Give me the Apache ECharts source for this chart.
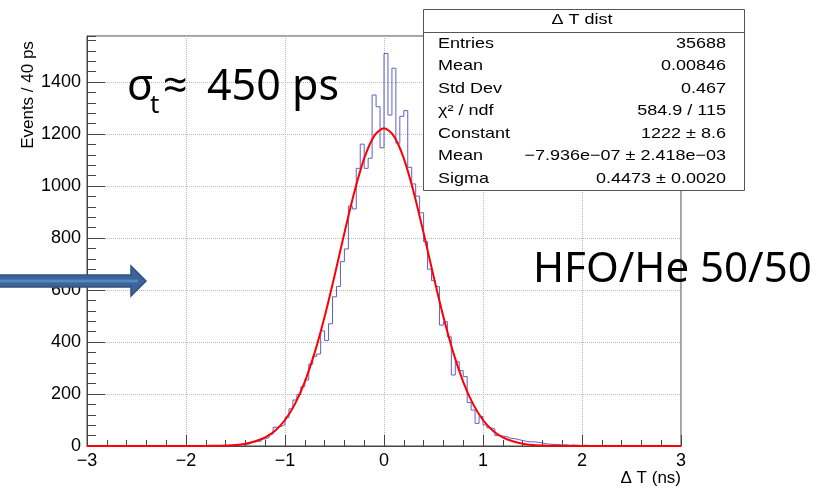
<!DOCTYPE html>
<html><head><meta charset="utf-8">
<script src="https://cdn.jsdelivr.net/npm/echarts@6/dist/echarts.min.js"></script>
<style>html,body{margin:0;padding:0;background:#fff}#c{width:823px;height:494px}</style>
</head><body><div id="c"></div>
<script>
// Histogram: 150 bins of 40 ps from -3 ns to 3 ns
const binLow = -3;
const binWidth = 0.04;
const counts = [
  0,0,0,0,0,0,0,0,0,0, 0,0,0,0,0,0,0,0,0,0, 0,0,0,0,0,0,0,0,0,0, 0,0,0,0,
  1,0,2,3,4,5,8,15,17,19,27,33,46,72,75,82,
  110,143,177,198,228,254,315,345,354,443,406,470,574,614,709,758,923,912,1068,1161,
  1068,1107,1350,1305,1147,1510,1273,1453,1165,1268,1290,1072,1008,961,897,786,680,
  636,613,465,478,420,273,324,290,267,167,138,87,113,81,70,66,40,38,36,30,
  28,25,21,18,16,16,14,12,8,7,6,6,4,5,3,4,3,2,3,2,1,2,1,1,0,1,0,1,
  0,0,0,0,0,0,0,0,0,0,0,0,0,0,0
];
// Gaussian fit curve
const fitX = [-3,-2,-1.8,-1.7,-1.6,-1.5,-1.4,-1.3,-1.2,-1.1,-1.0,-0.9,-0.8,-0.7,-0.6,-0.5,-0.4,-0.3,-0.2,-0.1,0,
  0.1,0.2,0.3,0.4,0.5,0.6,0.7,0.8,0.9,1.0,1.1,1.2,1.3,1.4,1.5,1.6,1.7,1.8,2,3];
const fitY = [0,0,0.4,0.9,2,4,9,18,33,59,100,161,247,359,497,654,819,976,1106,1192,1222,
  1192,1106,976,819,654,497,359,247,161,100,59,33,18,9,4,2,0.9,0.4,0,0];

const statTitle = 'Δ T dist';
const statLabels = ['Entries','Mean','Std Dev','χ² / ndf','Constant','Mean','Sigma'];
const statValues = ['35688','0.00846','0.467','584.9 / 115','1222 ± 8.6','−7.936e−07 ± 2.418e−03','0.4473 ± 0.0020'];
const xTitle = 'Δ T (ns)';
const yTitle = 'Events / 40 ps';

const histData = counts.map((c, i) => [binLow + i * binWidth, c]);
histData.push([binLow + counts.length * binWidth, 0]);
const fitData = fitX.map((x, i) => [x, fitY[i]]);

const FONT = '"Liberation Sans", Arial, sans-serif';
const axisCol = '#444';
const fmtNum = v => (v < 0 ? '\u2212' + Math.abs(v) : String(v));

const chart = echarts.init(document.getElementById('c'));
const graphics = [];
// stats box
graphics.push({type:'rect', z:100, shape:{x:423.5,y:9.5,width:321,height:181}, style:{fill:'#fff',stroke:'#555',lineWidth:1}});
graphics.push({type:'line', z:101, shape:{x1:423.5,y1:32.5,x2:744.5,y2:32.5}, style:{stroke:'#555',lineWidth:1}});
graphics.push({type:'text', z:102, x:582, y:20, scaleX:1.2, style:{text:statTitle, x:0, y:0, align:'center', verticalAlign:'middle', font:'15px '+FONT, fill:'#000'}});
statLabels.forEach((l, i) => {
  const y = 43.5 + 22.5 * i;
  graphics.push({type:'text', z:102, x:438, y:y, scaleX:1.2, style:{text:l, x:0, y:0, align:'left', verticalAlign:'middle', font:'15px '+FONT, fill:'#000'}});
  graphics.push({type:'text', z:102, x:726, y:y, scaleX:1.2, style:{text:statValues[i], x:0, y:0, align:'right', verticalAlign:'middle', font:'15px '+FONT, fill:'#000'}});
});
// axis titles
graphics.push({type:'text', z:102, x:28, y:95, rotation:Math.PI/2, style:{text:yTitle, x:0, y:0, align:'center', verticalAlign:'middle', font:'17px '+FONT, fill:'#000'}});
graphics.push({type:'text', z:102, x:681, y:478, style:{text:xTitle, x:0, y:0, align:'right', verticalAlign:'middle', font:'17px '+FONT, fill:'#000'}});
// annotations
const BIG = '"Noto Sans", "Open Sans", sans-serif';
graphics.push({type:'text', z:102, x:127, y:88, style:{text:'σ', x:0, y:0, align:'left', verticalAlign:'middle', font:'43px '+BIG, fill:'#000'}});
graphics.push({type:'text', z:102, x:150, y:106, style:{text:'t', x:0, y:0, align:'left', verticalAlign:'middle', font:'26px '+BIG, fill:'#000'}});
graphics.push({type:'text', z:102, x:163, y:88, style:{text:'≈', x:0, y:0, align:'left', verticalAlign:'middle', font:'43px '+BIG, fill:'#000'}});
graphics.push({type:'text', z:102, x:207, y:88, style:{text:'450 ps', x:0, y:0, align:'left', verticalAlign:'middle', font:'43px '+BIG, fill:'#000'}});
graphics.push({type:'text', z:102, x:533, y:270, style:{text:'HFO/He 50/50', x:0, y:0, align:'left', verticalAlign:'middle', font:'42px '+BIG, fill:'#000'}});
// arrow
graphics.push({type:'polygon', z:110, shape:{points:[[-2,275],[131,275],[131,266],[146,281],[131,296],[131,287],[-2,287]]}, style:{fill:'#3D6398',stroke:'#2F5183',lineWidth:1.5}});
graphics.push({type:'line', z:111, shape:{x1:0,y1:281,x2:138,y2:281}, style:{stroke:'#5585C2',lineWidth:3}});

const option = {
  animation: false,
  backgroundColor: '#fff',
  grid: {left:87, right:142, top:36, bottom:48, show:true, borderColor:axisCol, borderWidth:1, backgroundColor:'transparent'},
  xAxis: [
    {type:'value', min:-3, max:3, interval:1, gridIndex:0, position:'bottom',
      axisLine:{show:true, onZero:false, lineStyle:{color:axisCol}},
      axisTick:{show:true, inside:true, length:11, lineStyle:{color:axisCol}},
      axisLabel:{show:true, margin:6, fontSize:18, fontFamily:FONT, color:'#000', formatter:fmtNum},
      splitLine:{show:true, lineStyle:{color:'#b8b8b8', type:'dotted', width:1}}},
    {type:'value', min:-3, max:3, interval:0.2, gridIndex:0, position:'bottom',
      axisLine:{show:false, onZero:false},
      axisTick:{show:true, inside:true, length:6, lineStyle:{color:axisCol}},
      axisLabel:{show:false}, splitLine:{show:false}}
  ],
  yAxis: [
    {type:'value', min:0, max:1577, interval:200, position:'left',
      axisLine:{show:true, onZero:false, lineStyle:{color:axisCol}},
      axisTick:{show:true, inside:true, length:18, lineStyle:{color:axisCol}},
      axisLabel:{show:true, margin:6, fontSize:18, fontFamily:FONT, color:'#000', showMaxLabel:false,
        formatter: v => (v % 200 === 0 ? String(v) : '')},
      splitLine:{show:true, lineStyle:{color:'#b8b8b8', type:'dotted', width:1}}},
    {type:'value', min:0, max:1577, interval:40, position:'left',
      axisLine:{show:false, onZero:false},
      axisTick:{show:true, inside:true, length:9, lineStyle:{color:axisCol}},
      axisLabel:{show:false}, splitLine:{show:false}}
  ],
  series: [
    {type:'line', xAxisIndex:0, yAxisIndex:0, data:histData, step:'end', showSymbol:false, symbol:'none',
      lineStyle:{color:'#5f5fcc', width:1}, z:3},
    {type:'line', xAxisIndex:0, yAxisIndex:0, data:fitData, smooth:0.3, showSymbol:false, symbol:'none',
      lineStyle:{color:'#ff0000', width:2}, z:4}
  ],
  graphic: {elements: graphics}
};
chart.setOption(option);
</script>
</body></html>
